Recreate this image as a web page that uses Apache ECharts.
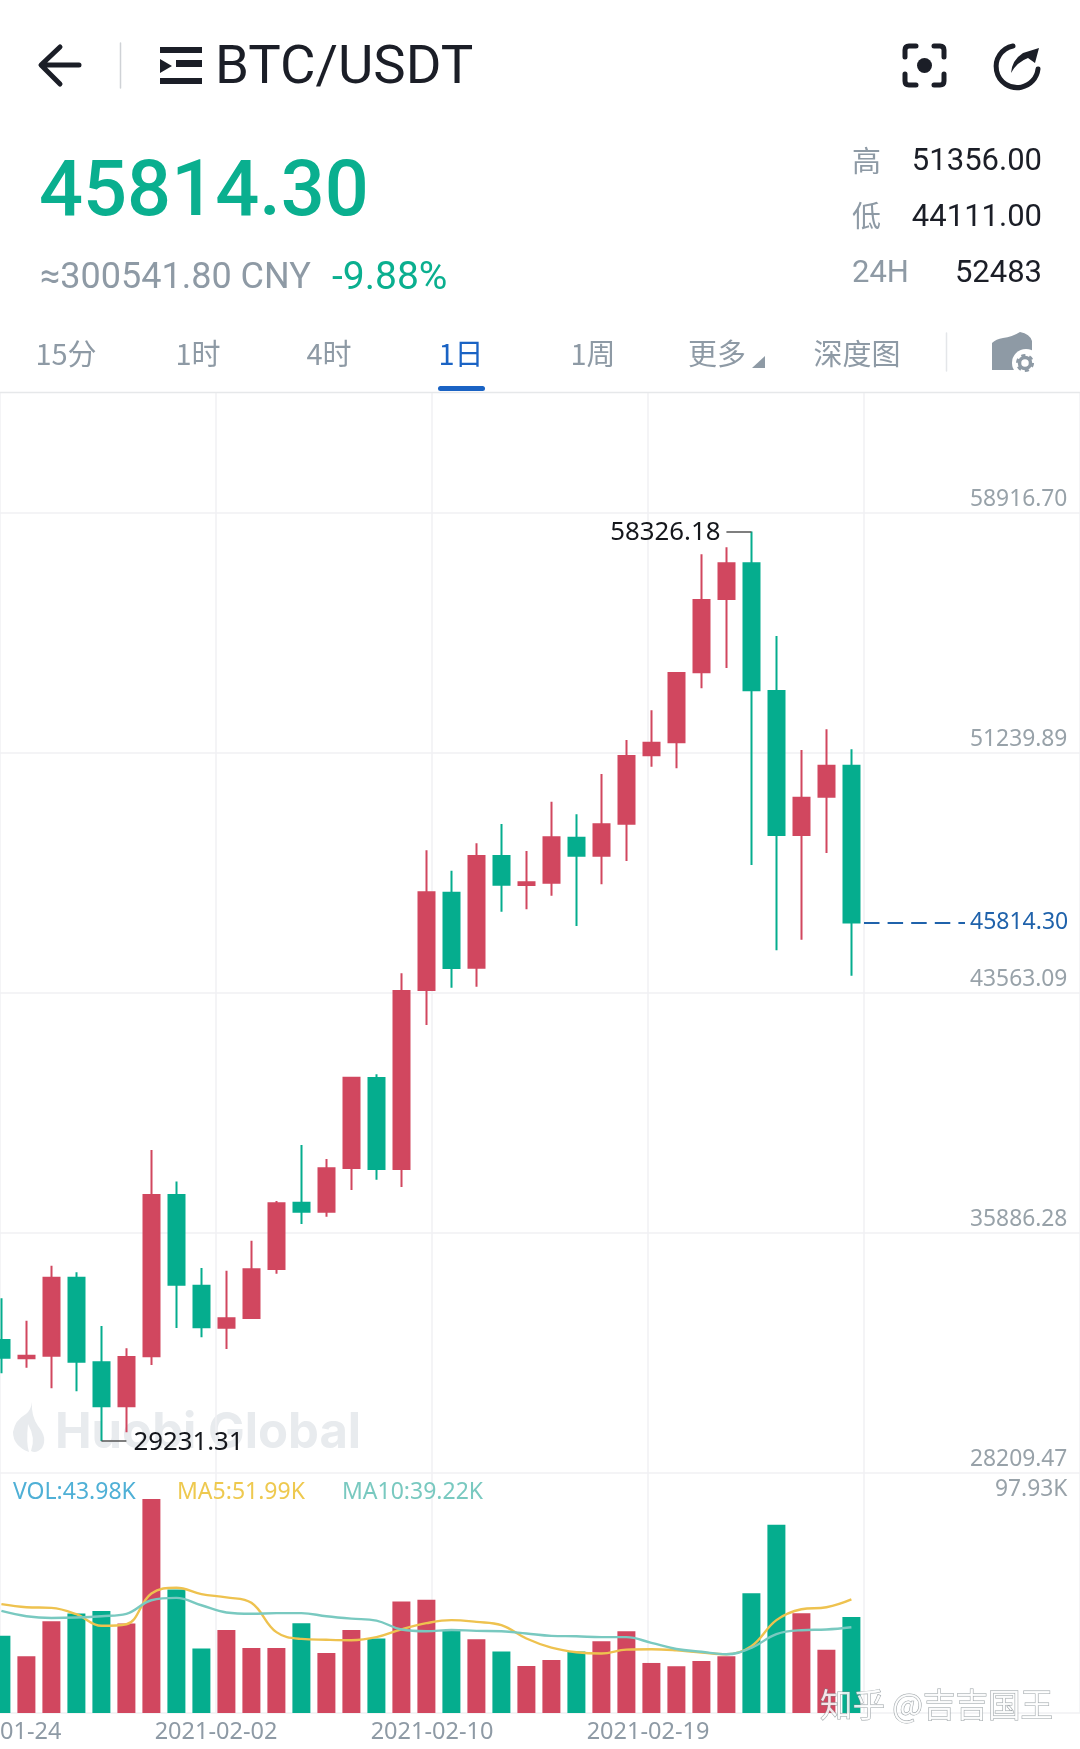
<!DOCTYPE html>
<html>
<head>
<meta charset="utf-8">
<title>BTC/USDT</title>
<style>
    html, body { margin: 0; padding: 0; background: #fff; }
    #main { width: 1080px; height: 1749px; }
</style>
<script src="https://cdn.jsdelivr.net/npm/echarts@6/dist/echarts.min.js"></script>
</head>
<body>
<div id="main"></div>
<script>
// K线数据
var days = ['01-24','01-25','01-26','01-27','01-28','01-29','01-30','01-31','02-01','02-02','02-03','02-04',
    '02-05','02-06','02-07','02-08','02-09','02-10','02-11','02-12','02-13','02-14','02-15','02-16','02-17',
    '02-18','02-19','02-20','02-21','02-22','02-23','02-24','02-25','02-26','02-27','','','','','','','','',''];
var opens = [32463,31878,31961,34457,31751,30342,31942,37102,34200,32857,33167,34734,36855,36567,37965,40844,37933,
    43659,46771,44372,47945,47018,47091,48531,47955,48978,51166,51582,53821,56166,57308,53223,48617,49842,50833];
var closes = [31897,31961,34457,31770,30342,31920,37102,34232,32869,33157,34725,36836,36567,37955,40854,37933,43627,
    46784,44363,47945,47027,47104,48543,47955,48959,51144,51569,53799,56134,57308,53246,48617,49810,50833,45814.30];
var lows = [31398,31578,30918,30823,29231.31,29511,31664,32847,32550,32175,33145,34584,36174,36408,37261,37591,37357,
    42539,43733,43765,46164,46240,46675,45706,47040,47785,50802,50750,53309,53959,47657,44929,45268,48041,44111];
var highs = [33797,33081,34840,34629,32911,32198,38541,37533,34766,34680,35640,36910,38701,38253,40870,40962,44193,
    48127,47475,48351,48969,48105,49682,49279,50568,51656,52605,53799,57595,57820,58326.18,54982,51336,51998,51356];
// 成交量 (K)
var volumes = [35.3,26.0,42.0,45.5,46.7,40.9,97.93,56.5,29.5,38.0,29.8,29.8,41.1,27.5,38.0,34.1,51.0,
    51.8,37.7,33.8,28.1,21.5,24.3,28.1,32.8,37.4,22.9,21.4,23.8,26.0,54.8,86.2,45.7,29.0,43.98];
var ma5 = [49.8,48.4,48.1,45.2,39.9,40.6,54.7,57.3,54.4,52.9,50.4,37.0,33.9,33.5,33.3,34.7,38.3,
    41.1,42.5,41.7,40.2,34.1,29.9,27.8,27.2,29.0,29.2,28.7,27.7,26.9,30.6,42.5,47.5,48.4,51.99];
var ma10 = [46.7,44.3,43.5,43.7,44.3,45.4,51.6,52.7,49.3,46.0,45.4,45.7,45.7,44.3,43.2,42.3,38.2,
    37.4,38.0,37.6,37.4,36.4,35.3,35.1,34.7,34.7,32.1,29.3,28.0,26.9,29.8,36.1,37.9,38.2,39.22];
// 刻度
var priceTicks = [28209.47, 35886.28, 43563.09, 51239.89, 58916.70];
var volTicks = [97.93];
var dateTicks = ['2021-01-24', '2021-02-02', '2021-02-10', '2021-02-19', '', ' '];
var lastPrice = 45814.30, highPrice = 58326.18, lowPrice = 29231.31;

var RED = '#d1475f', GREEN = '#05ad8e', GRAY = '#8e9aa5', DARK = '#1b1e27', BLUE = '#1a63c4';
var LINE = '#f0f1f3';
var NUM = 'Roboto', AXIS = '"Noto Sans"', CJK = '"Noto Sans CJK SC"';

var candleData = opens.map(function (o, i) {
    return [o, closes[i], lows[i], highs[i]];
});
var volData = volumes.map(function (v, i) {
    return { value: v, itemStyle: { color: closes[i] >= opens[i] ? RED : GREEN } };
});

// 页面文字
function txt(x, y, s, size, color, align, family, weight) {
    return {
        type: 'text', x: x, y: y, silent: true, z: 5,
        style: {
            text: s, fontSize: size, fontFamily: family || NUM, fontWeight: weight || 'normal',
            fill: color, align: align || 'left', verticalAlign: 'middle'
        }
    };
}
// graphic 不支持 type: 'path'，先注册成自定义形状
var iconCount = 0;
function iconType(pathData) {
    var name = 'icon' + (iconCount++);
    echarts.graphic.registerShape(name, echarts.graphic.extendPath(pathData, {}));
    return name;
}
function stroke(pathData, color, w) {
    return {
        type: iconType(pathData), silent: true, z: 5,
        style: { fill: 'none', stroke: color, lineWidth: w, lineCap: 'round', lineJoin: 'round' }
    };
}
function fillPath(pathData, color, z) {
    return {
        type: iconType(pathData), silent: true, z: z === undefined ? 5 : z,
        style: { fill: color }
    };
}

var graphics = [
    // 顶部导航
    stroke('M79 65 L42 65 M60 47 L41 65 L60 84', DARK, 5),
    stroke('M120.5 43 L120.5 88', '#cfd2d6', 1.5),
    fillPath('M160 47 H202 V53 H160 Z M176 60 H202 V67 H176 Z M160 78 H202 V84 H160 Z M160 59 L172 66 L160 73 Z', DARK),
    txt(215, 69, 'BTC/USDT', 54.5, DARK),
    stroke('M905 57 V50 Q905 46 909 46 H916 M934 46 H940 Q944 46 944 50 V57 M944 74 V81 Q944 85 940 85 H934 M916 85 H909 Q905 85 905 81 V74', DARK, 5),
    { type: 'circle', silent: true, z: 5, shape: { cx: 924.5, cy: 65.5, r: 7.5 }, style: { fill: DARK } },
    stroke('M1013 46 A21 21 0 1 0 1038 69', DARK, 5),
    fillPath('M1011 73 Q1012 60 1023 53 L1039 48 L1035 63 L1028 58 Q1017 62 1011 73 Z', DARK),
    // 价格
    txt(39, 196, '45814.30', 77.5, '#0aaf8f', 'left', NUM, 500),
    txt(40, 279, '≈300541.80 CNY', 36, GRAY),
    txt(332, 279, '-9.88%', 39, '#0aaf8f'),
    txt(852, 161, '高', 29, GRAY, 'left', CJK),
    txt(852, 216, '低', 29, GRAY, 'left', CJK),
    txt(852, 274, '24H', 31, GRAY),
    txt(1042, 162, '51356.00', 31, DARK, 'right'),
    txt(1042, 218, '44111.00', 31, DARK, 'right'),
    txt(1042, 274, '52483', 31, DARK, 'right'),
    // 周期切换
    txt(66, 354, '15分', 29, GRAY, 'center', CJK),
    txt(198, 354, '1时', 29, GRAY, 'center', CJK),
    txt(329, 354, '4时', 29, GRAY, 'center', CJK),
    txt(461, 354, '1日', 29, BLUE, 'center', CJK),
    txt(593, 354, '1周', 29, GRAY, 'center', CJK),
    txt(717, 354, '更多', 29, GRAY, 'center', CJK),
    fillPath('M765 356 V368 H752 Z', GRAY),
    txt(857, 354, '深度图', 29, GRAY, 'center', CJK),
    stroke('M946.5 333 V371', '#e4e6e9', 1.5),
    fillPath('M992 370 V343 Q996 339 1003 338 Q1012 337 1020 332 Q1030 334 1032 341 V370 Z', GRAY),
    { type: 'circle', silent: true, z: 5, shape: { cx: 1026, cy: 363, r: 14 }, style: { fill: '#fff' } },
    { type: 'circle', silent: true, z: 5, shape: { cx: 1025, cy: 363, r: 5.5 }, style: { fill: '#fff', stroke: GRAY, lineWidth: 3.5 } },
    { type: 'circle', silent: true, z: 5, shape: { cx: 1025, cy: 363, r: 7.8 }, style: { fill: 'none', stroke: GRAY, lineWidth: 2.5, lineDash: [4.1, 4.1] } },
    { type: 'rect', silent: true, z: 5, shape: { x: 438, y: 386, width: 47, height: 5, r: 2.5 }, style: { fill: BLUE } },
    stroke('M0 392.5 H1080', '#e6e8ea', 1.5),
    // 水印
    fillPath('M32 1402 Q31 1416 38 1426 Q48 1438 42 1448 Q36 1454 31 1451 Q36 1438 28 1424 Q26 1444 29 1452 Q13 1446 13 1432 Q15 1420 26 1414 Q31 1410 32 1402 Z', '#e8ebee', 0),
    {
        type: 'text', x: 55, y: 1433, silent: true, z: 0,
        style: { text: 'Huobi Global', fontSize: 49, fontFamily: 'Inter', fontWeight: 700, fill: '#e8ebee', align: 'left', verticalAlign: 'middle' }
    },
    // 副图图例
    txt(13, 1492, 'VOL:43.98K', 23, '#4fb0d6', 'left', AXIS),
    txt(177, 1492, 'MA5:51.99K', 23, '#eec94f', 'left', AXIS),
    txt(342, 1492, 'MA10:39.22K', 23, '#79c9c0', 'left', AXIS),
    {
        type: 'text', x: 820, y: 1705, silent: true, z: 100,
        style: {
            text: '知乎 @吉吉国王', fontSize: 32.5, fontFamily: CJK, fill: 'rgba(255,255,255,0.85)',
            stroke: 'rgba(120,130,135,0.75)', lineWidth: 1, align: 'left', verticalAlign: 'middle'
        }
    }
];

var myChart = echarts.init(document.getElementById('main'), null, { renderer: 'canvas' });
var option = {
    animation: false,
    backgroundColor: '#fff',
    graphic: graphics,
    grid: [
        // 主图
        { left: -11.1, width: 1100, top: 393, height: 1080, outerBoundsMode: 'none' },
        // 副图
        { left: -11.1, width: 1100, top: 1499, height: 214, outerBoundsMode: 'none' },
        // 时间轴和竖线
        { left: 0, width: 1080, top: 393, height: 1320, outerBoundsMode: 'none' }
    ],
    xAxis: [
        { type: 'category', gridIndex: 0, data: days, axisLine: { show: false }, axisTick: { show: false }, axisLabel: { show: false }, splitLine: { show: false } },
        { type: 'category', gridIndex: 1, data: days, axisLine: { show: false }, axisTick: { show: false }, axisLabel: { show: false }, splitLine: { show: false } },
        {
            type: 'category', gridIndex: 2, data: dateTicks, boundaryGap: false,
            axisLine: { lineStyle: { color: LINE, width: 1.5 } },
            axisTick: { show: false },
            axisLabel: { interval: 0, color: GRAY, fontSize: 23.5, fontFamily: AXIS, margin: 7 },
            splitLine: { show: true, interval: 0, lineStyle: { color: LINE, width: 1.5 } }
        }
    ],
    yAxis: [
        {
            type: 'value', gridIndex: 0, min: 28209.47, max: 62755.13, position: 'right',
            axisLine: { show: false },
            axisTick: { show: false, customValues: priceTicks },
            axisLabel: {
                inside: true, customValues: priceTicks, margin: 21.5, color: '#98a2a9', fontSize: 22.8, fontFamily: AXIS,
                verticalAlign: 'bottom', padding: [0, 0, 2, 0],
                formatter: function (v) { return v.toFixed(2); }
            },
            splitLine: { show: true, lineStyle: { color: LINE, width: 1.5 } }
        },
        {
            type: 'value', gridIndex: 1, min: 0, max: 97.93, position: 'right',
            axisLine: { show: false },
            axisTick: { show: false, customValues: volTicks },
            axisLabel: {
                inside: true, customValues: volTicks, margin: 21.5, color: '#98a2a9', fontSize: 22.8, fontFamily: AXIS,
                verticalAlign: 'bottom', lineHeight: 18,
                formatter: function (v) { return v.toFixed(2) + 'K'; }
            },
            splitLine: { show: false }
        },
        { type: 'value', gridIndex: 2, min: 0, max: 1, show: false }
    ],
    series: [
        {
            name: 'K', type: 'candlestick', xAxisIndex: 0, yAxisIndex: 0,
            barWidth: 16,
            itemStyle: { color: RED, color0: GREEN, borderColor: RED, borderColor0: GREEN, borderWidth: 2 },
            data: candleData,
            markPoint: {
                silent: true, symbol: 'circle', symbolSize: 0,
                data: [
                    {
                        coord: [29, highPrice],
                        label: { show: true, position: 'left', distance: 6, offset: [0, 1], formatter: String(highPrice), color: '#15171c', fontSize: 25.8, fontFamily: AXIS }
                    },
                    {
                        coord: [5, lowPrice],
                        label: { show: true, position: 'right', distance: 7, offset: [0, 2], formatter: String(lowPrice), color: '#15171c', fontSize: 25.8, fontFamily: AXIS }
                    }
                ]
            },
            markLine: {
                silent: true, symbol: 'none',
                data: [
                    [{ coord: [29, highPrice] }, { coord: [30, highPrice] }],
                    [{ coord: [4, lowPrice] }, { coord: [5, lowPrice] }],
                    [
                        { coord: [34, lastPrice], x: 864, lineStyle: { color: '#1f62ab', type: [15.5, 8.1], width: 2 } },
                        {
                            coord: [34, lastPrice], x: 965,
                            label: { show: true, position: 'end', distance: 5, formatter: lastPrice.toFixed(2), color: '#1f62ab', fontSize: 23, fontFamily: AXIS }
                        }
                    ]
                ],
                label: { show: false },
                lineStyle: { color: '#555', type: 'solid', width: 1.5 }
            }
        },
        { name: 'VOL', type: 'bar', xAxisIndex: 1, yAxisIndex: 1, barWidth: 18, data: volData },
        {
            name: 'MA5', type: 'line', xAxisIndex: 1, yAxisIndex: 1, data: ma5, smooth: 0.4, showSymbol: false,
            lineStyle: { color: '#eec24f', width: 2.4 }
        },
        {
            name: 'MA10', type: 'line', xAxisIndex: 1, yAxisIndex: 1, data: ma10, smooth: 0.4, showSymbol: false,
            lineStyle: { color: '#79c9c0', width: 2.4 }
        }
    ]
};
myChart.setOption(option);
</script>
</body>
</html>
